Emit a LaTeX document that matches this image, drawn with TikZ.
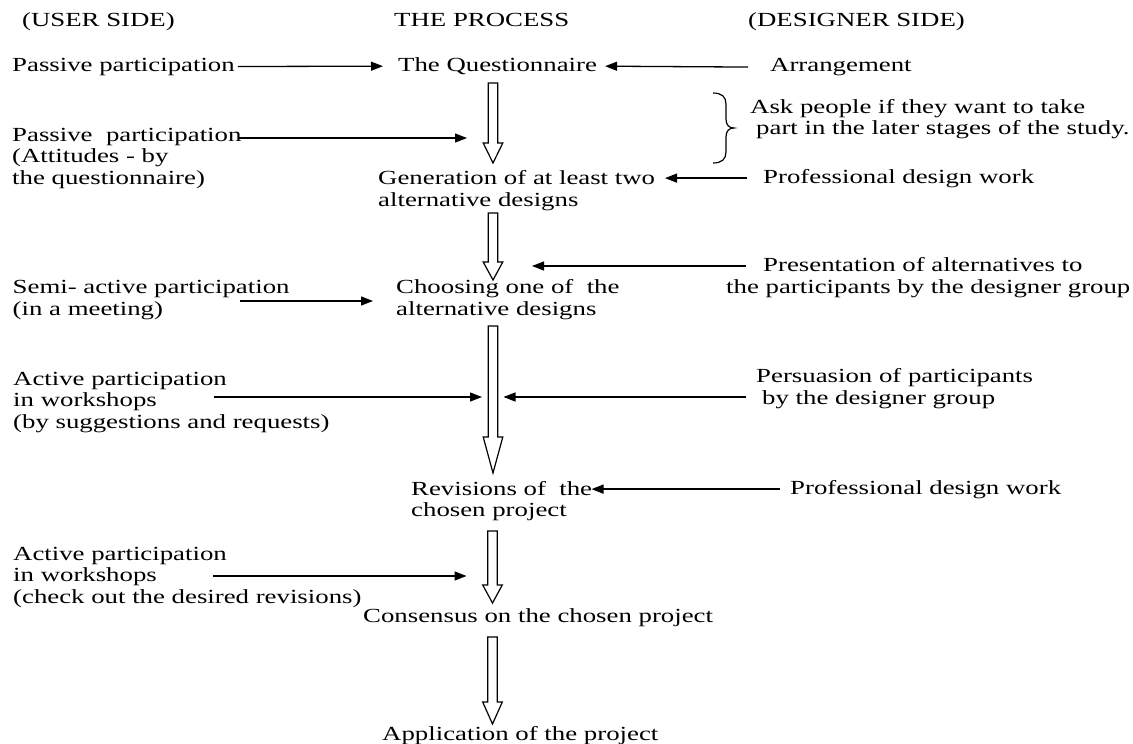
\documentclass[tikz,border=0pt]{standalone}
\usepackage{fontspec}
\setmainfont[FakeStretch=1.34]{Liberation Serif}
\usetikzlibrary{arrows.meta,calc}
\begin{document}
\begin{tikzpicture}[x=1pt,y=1pt,
  txt/.style={anchor=base west,inner sep=0pt,align=left,font=\fontsize{20}{21.5}\selectfont},
  arr/.style={line width=1.3pt,-{Triangle[length=12pt,width=9pt]}},
  hollow/.style={line width=1.2pt,line join=miter,
    to path={let \p1=(\tikztostart),\p2=(\tikztotarget) in
      (\x1-4.7pt,\y1) -- (\x1+4.7pt,\y1) -- (\x1+4.7pt,\y2+#1) -- (\x1+9.8pt,\y2+#1)
      -- (\x2,\y2) -- (\x1-9.8pt,\y2+#1) -- (\x1-4.7pt,\y2+#1) -- cycle}},
  hollow/.default=20pt]
\fill[white] (0,0) rectangle (1133,-744);
\useasboundingbox (0,0) rectangle (1133,-744);

% headers
\node[txt] (uh) at (22,-27) {(USER SIDE)};
\node[txt] (ph) at (394,-27) {THE PROCESS};
\node[txt] (dh) at (748,-27) {(DESIGNER SIDE)};

% process column (anchor = baseline of the last line)
\node[txt] (q)  at (398,-71.5) {The Questionnaire};
\node[txt] (g)  at (378,-206) {Generation of at least two\\alternative designs};
\node[txt] (c)  at (396,-315) {Choosing one of\ \ the\\alternative designs};
\node[txt] (r)  at (411,-516.5) {Revisions of\ \ the\\chosen project};
\node[txt] (cs) at (363,-622.5) {Consensus on the chosen project};
\node[txt] (ap) at (382,-740) {Application of the project};

% user side
\node[txt] (u1) at (12,-71) {Passive participation};
\node[txt] (u2) at (12,-184) {Passive\ \ participation\\(Attitudes - by\\the questionnaire)};
\node[txt] (u3) at (12.5,-315) {Semi- active participation\\(in a meeting)};
\node[txt] (u4) at (13,-428) {Active participation\\in workshops\\(by suggestions and requests)};
\node[txt] (u5) at (13,-603) {Active participation\\in workshops\\(check out the desired revisions)};

% designer side
\node[txt] (d1) at (770,-71.5) {Arrangement};
\node[txt] (bt) at (750,-134.5) {Ask people if they want to take\\\hspace*{6pt}part in the later stages of the study.};
\node[txt] (d2) at (763,-183) {Professional design work};
\node[txt] (d3) at (726,-293) {\hspace*{37pt}Presentation of alternatives to\\the participants by the designer group};
\node[txt] (d4) at (756,-404) {Persuasion of participants\\\hspace*{6pt}by the designer group};
\node[txt] (d5) at (790,-494) {Professional design work};

% brace
\draw[line width=1.2pt] (713,-93) .. controls (722,-93) and (726,-97) .. (726,-104)
  -- (726,-119) .. controls (726,-125) and (729,-128) .. (734,-128)
  .. controls (729,-128) and (726,-131) .. (726,-137)
  -- (726,-152) .. controls (726,-159) and (722,-163) .. (713,-163);

% hollow process arrows
\coordinate (h1s) at (493,-83);   \coordinate (h1e) at (493,-163);
\coordinate (h2s) at (493,-213);  \coordinate (h2e) at (493,-280);
\coordinate (h3s) at (493,-326);  \coordinate (h3e) at (493,-473);
\coordinate (h4s) at (492.5,-531);\coordinate (h4e) at (492.5,-603);
\coordinate (h5s) at (492.5,-637);\coordinate (h5e) at (492.5,-724);
\draw[hollow] (h1s) to (h1e);
\draw[hollow=18pt] (h2s) to (h2e);
\draw[hollow=36pt] (h3s) to (h3e);
\draw[hollow=18pt] (h4s) to (h4e);
\draw[hollow=22pt] (h5s) to (h5e);

% thin arrows
\coordinate (u2a) at (238,-138);  \coordinate (h1l) at (467,-138);
\coordinate (u3a) at (240,-301);  \coordinate (cL)  at (373,-301);
\coordinate (d3a) at (746,-266);  \coordinate (h2r) at (532,-266);
\coordinate (u4a) at (214,-397);  \coordinate (h3l) at (482,-397);
\coordinate (d4a) at (746,-397);  \coordinate (h3r) at (503.5,-397);
\coordinate (u5a) at (213,-576);  \coordinate (h4l) at (466.5,-576);
\coordinate (gR)  at (665,0);     \coordinate (rR)  at (591.5,0);

\draw[arr] ([xshift=3pt]u1.east) -- ([xshift=-15pt]q.west);
\draw[arr] ([xshift=-22pt]d1.west) -- ([xshift=8pt]q.east);
\draw[arr] (u2a) -- (h1l);
\draw[arr] ([xshift=-16pt]d2.west) -- (gR |- d2.west);
\draw[arr] (u3a) -- (cL);
\draw[arr] (d3a) -- (h2r);
\draw[arr] (u4a) -- (h3l);
\draw[arr] (d4a) -- (h3r);
\draw[arr] ([xshift=-10pt]d5.west) -- (rR |- d5.west);
\draw[arr] (u5a) -- (h4l);
\end{tikzpicture}
\end{document}
